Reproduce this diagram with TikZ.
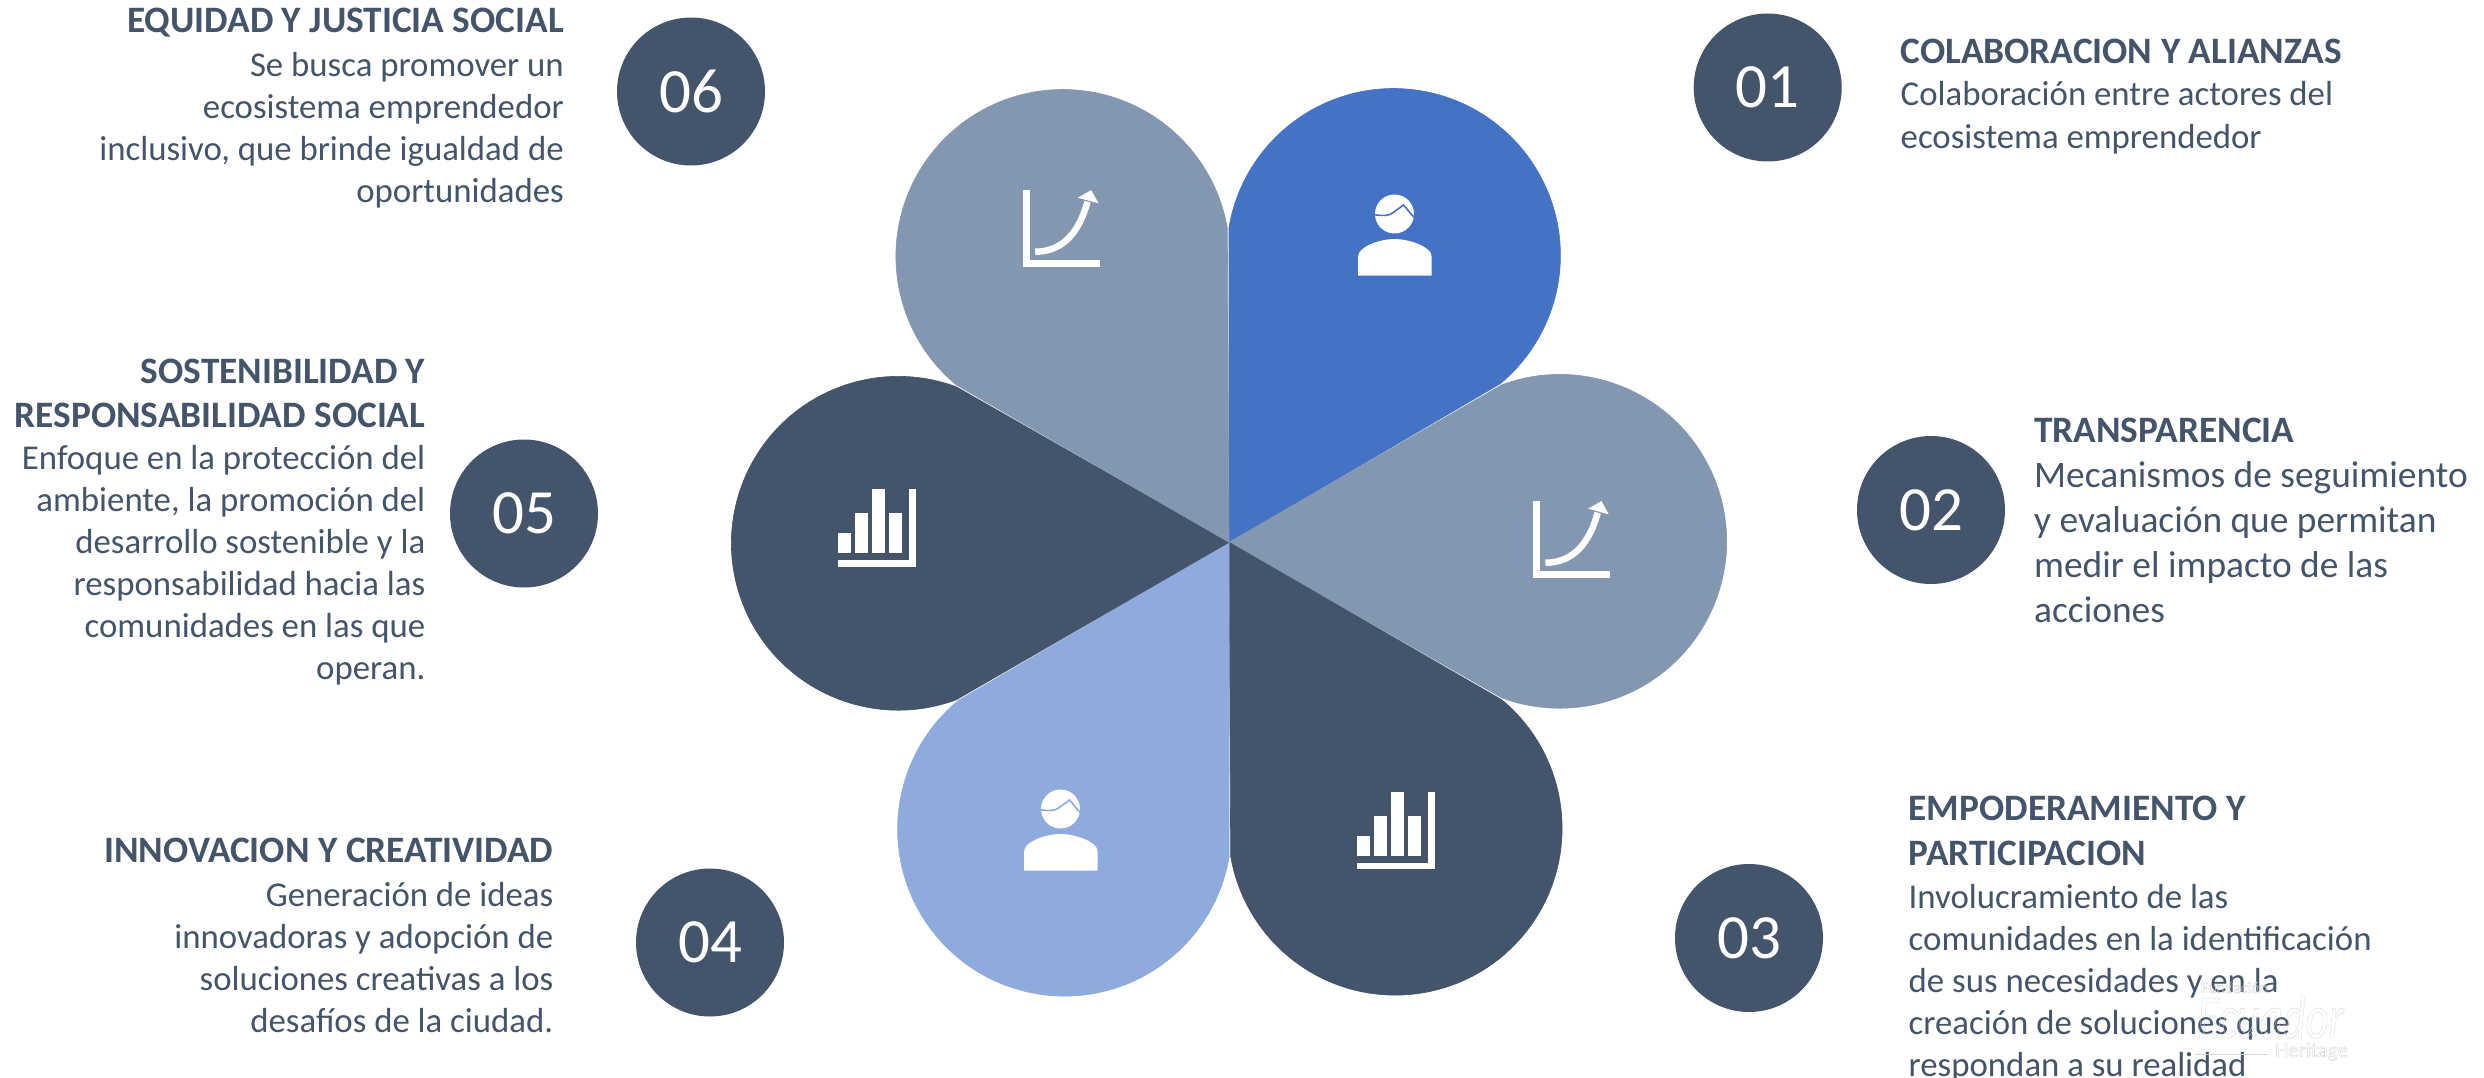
\documentclass[tikz,border=0pt]{standalone}
\usepackage{fontspec}
\setmainfont{Carlito}
\usetikzlibrary{backgrounds}
\definecolor{cDark}{HTML}{44546A}
\definecolor{cGrey}{HTML}{8497B0}
\definecolor{cBlue}{HTML}{4472C4}
\definecolor{cLight}{HTML}{8FAADC}
\definecolor{cRing}{HTML}{BFBFBF}
\definecolor{cMark}{HTML}{D4D4D4}
\newcommand{\hs}{\rule{0pt}{30pt}}
\newcommand{\outl}[1]{\special{pdf:code 1 Tr 0.4 w}#1\special{pdf:code 0 Tr}}
\newcommand{\petal}[2]{\filldraw[#2,line width=.6pt,rotate around={#1:(1229,-542.3)},shift={(1229,-542.3)}] (0,0) -- (272.8,157.5) arc[start angle=110.3,end angle=-110.3,radius=166.9] -- cycle;}
\newcommand{\iconchart}[2]{\begin{scope}[shift={(#1,#2)}]
\fill[white] (0,0) rectangle (7,-77.3);
\fill[white] (0,-70.3) rectangle (77.7,-77.3);
\draw[white,line width=6.5pt] (12.7,-61.7) .. controls (36,-61.7) and (55,-48) .. (65,-11.7);
\fill[white] (68.7,0) -- (55.3,-7.7) -- (76,-13.3) -- cycle;
\end{scope}}
\newcommand{\iconperson}[3]{\begin{scope}[shift={(#1,#2)}]
\fill[white] (0,0) circle (19.5);
\draw[#3,line width=1.6pt] (-20,-0.7) .. controls (-12,-2) and (-6,-2) .. (-2,1) -- (9,9) .. controls (12,6) and (16,0) .. (20,-3.5);
\fill[white] (-36.3,-61.7) -- (-36.3,-42) .. controls (-36.3,-33) and (-15,-25) .. (0,-25) .. controls (15,-25) and (37,-33) .. (37,-42) -- (37,-61.7) -- cycle;
\end{scope}}
\newcommand{\iconbars}[2]{\begin{scope}[shift={(#1,#2)}]
\fill[white] (0,-43.7) rectangle (12.3,-64);
\fill[white] (17,-24) rectangle (29.3,-64);
\fill[white] (34,0) rectangle (46.3,-64);
\fill[white] (51,-24) rectangle (63.3,-64);
\fill[white] (70.7,0) rectangle (77.3,-77.3);
\fill[white] (0,-70.7) rectangle (77.3,-77.3);
\end{scope}}
\tikzset{
  num/.style={circle,fill=cDark,text=white,minimum size=148pt,inner sep=0pt,font=\fontsize{63}{63}\selectfont},
  ring/.style={draw=cRing,line width=5pt,looseness=.885},
  titleR/.style={anchor=north east,inner sep=0pt,align=right,text=cDark,font=\fontsize{37.3}{44}\selectfont\bfseries},
  titleL/.style={anchor=north west,inner sep=0pt,align=left,text=cDark,font=\fontsize{37.3}{44}\selectfont\bfseries},
  bodyR/.style={anchor=north east,inner sep=0pt,align=right,text=cDark,font=\fontsize{34.8}{42}\selectfont},
  bodyL/.style={anchor=north west,inner sep=0pt,align=left,text=cDark,font=\fontsize{34.8}{42}\selectfont},
  marktext/.style={inner sep=0pt,text=cMark},
}
\begin{document}
\begin{tikzpicture}[x=1pt,y=1pt]
\fill[white] (0,0) rectangle (2484,-1078);
\useasboundingbox (0,0) rectangle (2484,-1078);
\petal{60}{cBlue}
\petal{0}{cGrey}
\petal{-60}{cDark}
\petal{-120}{cLight}
\petal{180}{cDark}
\petal{120}{cGrey}
\iconchart{1022.5}{-190}
\iconchart{1532.7}{-501}
\iconperson{1394.5}{-214}{cBlue}
\iconperson{1060.5}{-809}{cLight}
\iconbars{838.3}{-489.3}
\iconbars{1357.3}{-792}
\node[num] (n1) at (1767.7,-87.5) {01};
\node[num] (n2) at (1931,-510) {02};
\node[num] (n3) at (1749,-938) {03};
\node[num] (n4) at (710,-942.5) {04};
\node[num] (n5) at (524,-513.5) {05};
\node[num] (n6) at (691,-91.5) {06};
\begin{scope}[on background layer]
\draw[ring] (n1.center) to[bend left=21.8] (n2.center);
\draw[ring] (n2.center) to[bend left=22.4] (n3.center);
\draw[ring] (n6.center) to[bend right=22.4] (n5.center);
\draw[ring] (n5.center) to[bend right=22.4] (n4.center);
\end{scope}
\node[titleR] (t6) at (564,-2) {\hs EQUIDAD Y JUSTICIA SOCIAL};
\node[bodyR] (b6) at (564,-46) {\hs Se busca promover un\\ecosistema emprendedor\\inclusivo, que brinde igualdad de\\oportunidades};
\node[titleR] (t5) at (425.5,-353.5) {\hs SOSTENIBILIDAD Y\\RESPONSABILIDAD SOCIAL};
\node[bodyR] (b5) at (425.5,-439) {\hs Enfoque en la protección del\\ambiente, la promoción del\\desarrollo sostenible y la\\responsabilidad hacia las\\comunidades en las que\\operan.};
\node[titleR] (t4) at (553.5,-832) {\hs INNOVACION Y CREATIVIDAD};
\node[bodyR] (b4) at (553.5,-876) {\hs Generación de ideas\\innovadoras y adopción de\\soluciones creativas a los\\desafíos de la ciudad.};
\node[titleL] (t1) at (1900.5,-33.5) {\hs COLABORACION Y ALIANZAS};
\node[bodyL,font=\fontsize{34.8}{43.5}\selectfont] (b1) at (1900.5,-75) {\hs Colaboración entre actores del\\ecosistema emprendedor};
\node[titleL] (t2) at (2034,-412) {\hs TRANSPARENCIA};
\node[bodyL,font=\fontsize{37.4}{45}\selectfont] (b2) at (2034,-457) {\hs Mecanismos de seguimiento\\y evaluación que permitan\\medir el impacto de las\\acciones};
\node[titleL,font=\fontsize{37.3}{45}\selectfont\bfseries] (t3) at (1908.5,-790.5) {\hs EMPODERAMIENTO Y\\PARTICIPACION};
\node[bodyL] (b3) at (1908.5,-878) {\hs Involucramiento de las\\comunidades en la identificación\\de sus necesidades y en la\\creación de soluciones que\\respondan a su realidad};
\node[marktext,anchor=base west,font=\fontsize{16}{16}\selectfont] (w1) at (2200.5,-993) {\outl{Fundación}};
\node[marktext,anchor=base west,font=\fontsize{21}{21}\selectfont] (w3) at (2275,-1057) {\outl{Heritage}};
\node[marktext,anchor=base west,xscale=.72,font=\fontsize{62}{62}\selectfont\itshape] (w2) at (2197,-1038) {\outl{Ecuador}};
\coordinate (wa) at (2195,-1054);
\coordinate (wb) at (2268,-1054);
\draw[cMark,line width=1pt] (wa) -- (wb);
\end{tikzpicture}
\end{document}
